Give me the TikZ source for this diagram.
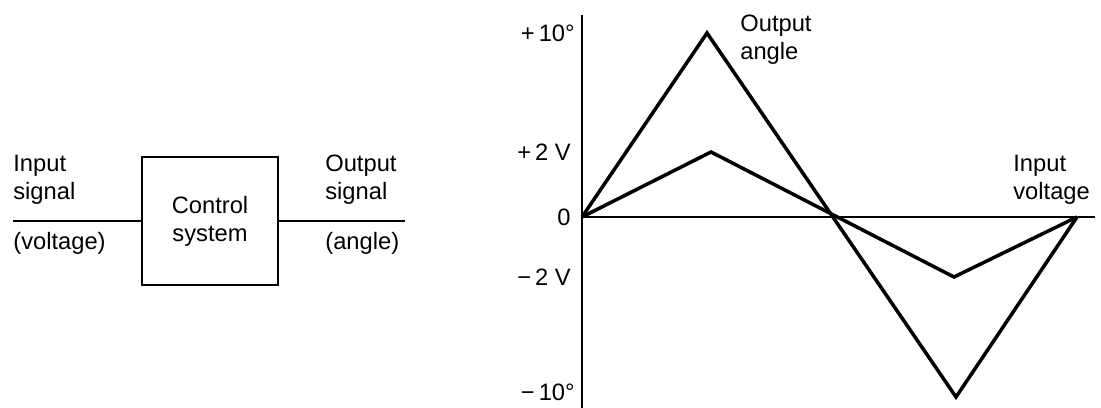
\documentclass[tikz,border=0pt]{standalone}
\usepackage{fontspec}
\setmainfont{Liberation Sans}
\usetikzlibrary{positioning}

\begin{document}
\begin{tikzpicture}[x=0.02cm, y=0.02cm,
        lbl/.style={inner sep=0pt, align=left, font=\fontsize{13.5}{16}\selectfont},
        ax/.style={black, line width=1.1pt},
        curve/.style={black, line width=2pt, line join=miter}]
        \useasboundingbox (0,0) rectangle (1101,408);
    % This draws the block with its signal lines.
        \node[draw, line width=1.1pt, minimum width=2.72cm, minimum height=2.56cm,
              align=center, font=\fontsize{13.5}{16}\selectfont] (ctrl) at (210,187) {Control\\system};
        \coordinate (inend) at (13,187);
        \coordinate (outend) at (405,187);
        \draw[ax] (inend) -- (ctrl.west);
        \draw[ax] (ctrl.east) -- (outend);
    % Below nodes are the block labels.
        \node[lbl, anchor=west] (insig) at (13,228) {Input\\signal};
        \node[lbl, anchor=west] (involt) at (13,165) {(voltage)};
        \node[lbl, anchor=west] (outsig) at (325,228) {Output\\signal};
        \node[lbl, anchor=west] (outang) at (325,165) {(angle)};
    % This draws the axes.
        \draw[ax] (582,0) -- (582,393);
        \draw[ax] (582,191) -- (1095,191);
    % Output angle and input voltage.
        \draw[curve] (582,191) -- (707,375) -- (956,11) -- (1077,191);
        \draw[curve] (582,191) -- (711,256) -- (954,131) -- (1077,191);
    % Below nodes are the axis labels.
        \node[lbl, anchor=east] (pten) at (575,375) {+\,10°};
        \node[lbl, anchor=east] (ptwo) at (571,256) {+\,2 V};
        \node[lbl, anchor=east] (zero) at (571,191) {0};
        \node[lbl, anchor=east] (mtwo) at (571,131) {−\,2 V};
        \node[lbl, anchor=east] (mten) at (575,16) {−\,10°};
        \node[lbl, anchor=west] (angtxt) at (740,368) {Output\\angle};
        \node[lbl, anchor=west] (volttxt) at (1013,228) {Input\\voltage};
    \end{tikzpicture}
\end{document}
